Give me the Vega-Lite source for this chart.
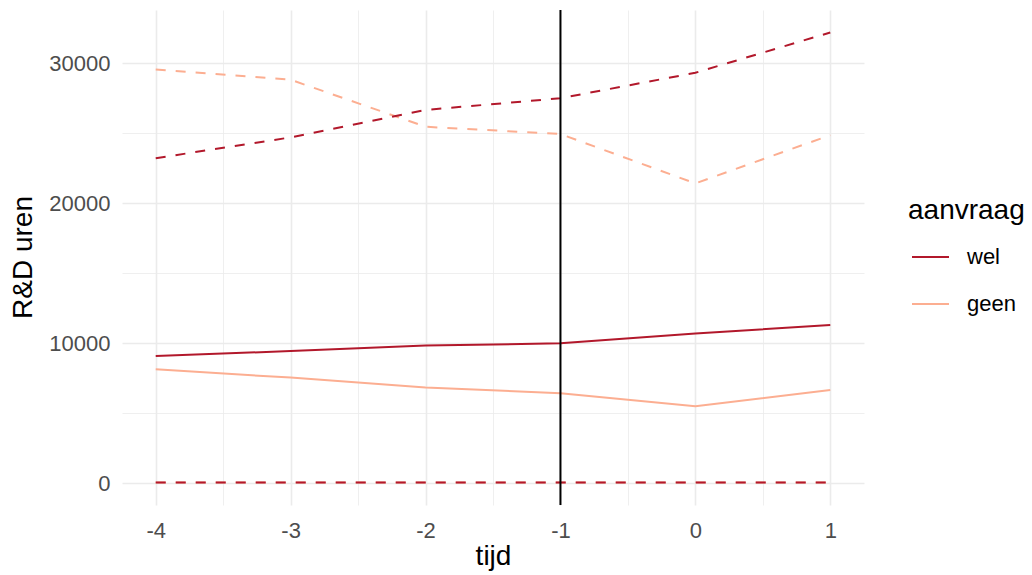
{
  "$schema": "https://vega.github.io/schema/vega-lite/v6.json",
  "width": 742,
  "height": 495,
  "autosize": {"type": "none"},
  "padding": {"left": 122, "top": 10, "right": 168, "bottom": 70},
  "background": "white",
  "config": {
    "view": {"stroke": null},
    "font": "Liberation Sans",
    "axis": {
      "domain": false,
      "ticks": false,
      "gridColor": "#EBEBEB",
      "labelColor": "#4D4D4D",
      "labelFont": "Liberation Sans",
      "labelFontSize": 22,
      "titleFont": "Liberation Sans",
      "titleFontSize": 28,
      "titleColor": "black",
      "titleFontWeight": "normal",
      "labelOverlap": false,
      "labelFlush": false
    },
    "legend": {
      "titleFont": "Liberation Sans",
      "titleFontSize": 28,
      "titleFontWeight": "normal",
      "titleColor": "black",
      "labelFont": "Liberation Sans",
      "labelFontSize": 22,
      "labelColor": "black"
    }
  },
  "datasets": {
    "lijnen": [
      {"tijd": -4, "aanvraag": "wel", "reeks": "gemiddelde", "waarde": 9050},
      {"tijd": -3, "aanvraag": "wel", "reeks": "gemiddelde", "waarde": 9400},
      {"tijd": -2, "aanvraag": "wel", "reeks": "gemiddelde", "waarde": 9800},
      {"tijd": -1, "aanvraag": "wel", "reeks": "gemiddelde", "waarde": 9950},
      {"tijd": 0, "aanvraag": "wel", "reeks": "gemiddelde", "waarde": 10650},
      {"tijd": 1, "aanvraag": "wel", "reeks": "gemiddelde", "waarde": 11270},
      {"tijd": -4, "aanvraag": "geen", "reeks": "gemiddelde", "waarde": 8090},
      {"tijd": -3, "aanvraag": "geen", "reeks": "gemiddelde", "waarde": 7500},
      {"tijd": -2, "aanvraag": "geen", "reeks": "gemiddelde", "waarde": 6790},
      {"tijd": -1, "aanvraag": "geen", "reeks": "gemiddelde", "waarde": 6390},
      {"tijd": 0, "aanvraag": "geen", "reeks": "gemiddelde", "waarde": 5460},
      {"tijd": 1, "aanvraag": "geen", "reeks": "gemiddelde", "waarde": 6610},
      {"tijd": -4, "aanvraag": "geen", "reeks": "ondergrens", "waarde": 0},
      {"tijd": -3, "aanvraag": "geen", "reeks": "ondergrens", "waarde": 0},
      {"tijd": -2, "aanvraag": "geen", "reeks": "ondergrens", "waarde": 0},
      {"tijd": -1, "aanvraag": "geen", "reeks": "ondergrens", "waarde": 0},
      {"tijd": 0, "aanvraag": "geen", "reeks": "ondergrens", "waarde": 0},
      {"tijd": 1, "aanvraag": "geen", "reeks": "ondergrens", "waarde": 0},
      {"tijd": -4, "aanvraag": "geen", "reeks": "bovengrens", "waarde": 29540},
      {"tijd": -3, "aanvraag": "geen", "reeks": "bovengrens", "waarde": 28800},
      {"tijd": -2, "aanvraag": "geen", "reeks": "bovengrens", "waarde": 25440},
      {"tijd": -1, "aanvraag": "geen", "reeks": "bovengrens", "waarde": 24920},
      {"tijd": 0, "aanvraag": "geen", "reeks": "bovengrens", "waarde": 21390},
      {"tijd": 1, "aanvraag": "geen", "reeks": "bovengrens", "waarde": 24840},
      {"tijd": -4, "aanvraag": "wel", "reeks": "ondergrens", "waarde": 0},
      {"tijd": -3, "aanvraag": "wel", "reeks": "ondergrens", "waarde": 0},
      {"tijd": -2, "aanvraag": "wel", "reeks": "ondergrens", "waarde": 0},
      {"tijd": -1, "aanvraag": "wel", "reeks": "ondergrens", "waarde": 0},
      {"tijd": 0, "aanvraag": "wel", "reeks": "ondergrens", "waarde": 0},
      {"tijd": 1, "aanvraag": "wel", "reeks": "ondergrens", "waarde": 0},
      {"tijd": -4, "aanvraag": "wel", "reeks": "bovengrens", "waarde": 23190},
      {"tijd": -3, "aanvraag": "wel", "reeks": "bovengrens", "waarde": 24680},
      {"tijd": -2, "aanvraag": "wel", "reeks": "bovengrens", "waarde": 26640},
      {"tijd": -1, "aanvraag": "wel", "reeks": "bovengrens", "waarde": 27480},
      {"tijd": 0, "aanvraag": "wel", "reeks": "bovengrens", "waarde": 29300},
      {"tijd": 1, "aanvraag": "wel", "reeks": "bovengrens", "waarde": 32180}
    ],
    "referentie": [{"tijd": -1}]
  },
  "layer": [
    {
      "data": {"name": "lijnen"},
      "transform": [{"filter": "datum.reeks == 'gemiddelde'"}],
      "mark": {"type": "line", "strokeWidth": 2},
      "encoding": {
        "x": {
          "field": "tijd",
          "type": "quantitative",
          "scale": {"domain": [-4.25, 1.25], "nice": false, "zero": false},
          "axis": {
            "title": "tijd",
            "values": [-4, -3.5, -3, -2.5, -2, -1.5, -1, -0.5, 0, 0.5, 1],
            "labelExpr": "datum.value % 1 === 0 ? '' + datum.value : ''",
            "gridWidth": {"condition": {"test": "datum.value % 1 === 0", "value": 1.6}, "value": 0.8},
            "labelBaseline": "alphabetic",
            "labelPadding": 32,
            "titleY": 59,
            "titleBaseline": "alphabetic"
          }
        },
        "y": {
          "field": "waarde",
          "type": "quantitative",
          "scale": {"domain": [-1609, 33789], "nice": false, "zero": false},
          "axis": {
            "title": "R&D uren",
            "values": [0, 5000, 10000, 15000, 20000, 25000, 30000],
            "labelExpr": "datum.value % 10000 === 0 ? '' + datum.value : ''",
            "gridWidth": {"condition": {"test": "datum.value % 10000 === 0", "value": 1.6}, "value": 0.8},
            "labelPadding": 12,
            "labelBaseline": "alphabetic",
            "labelOffset": 8,
            "titleX": -91,
            "titleY": 247,
            "titleAngle": -90,
            "titleAlign": "center",
            "titleBaseline": "alphabetic"
          }
        },
        "color": {
          "field": "aanvraag",
          "type": "nominal",
          "scale": {"domain": ["wel", "geen"], "range": ["#B2182B", "#FCAE91"]},
          "legend": {
            "title": "aanvraag",
            "orient": "none",
            "legendX": 786,
            "legendY": 187,
            "symbolType": "stroke",
            "symbolSize": 1369,
            "symbolStrokeWidth": 2,
            "symbolOffset": 3,
            "labelOffset": 17,
            "clipHeight": 30,
            "rowPadding": 17,
            "titlePadding": 17,
            "padding": 0
          }
        },
        "detail": {"field": "reeks"}
      }
    },
    {
      "data": {"name": "lijnen"},
      "transform": [{"filter": "datum.reeks != 'gemiddelde'"}],
      "mark": {"type": "line", "strokeWidth": 2, "strokeDash": [10, 10]},
      "encoding": {
        "x": {"field": "tijd", "type": "quantitative"},
        "y": {"field": "waarde", "type": "quantitative"},
        "color": {"field": "aanvraag", "type": "nominal"},
        "detail": {"field": "reeks"},
        "order": {"field": "tijd"}
      }
    },
    {
      "data": {"name": "referentie"},
      "mark": {"type": "rule", "color": "black", "strokeWidth": 2},
      "encoding": {
        "x": {"field": "tijd", "type": "quantitative"}
      }
    }
  ]
}
